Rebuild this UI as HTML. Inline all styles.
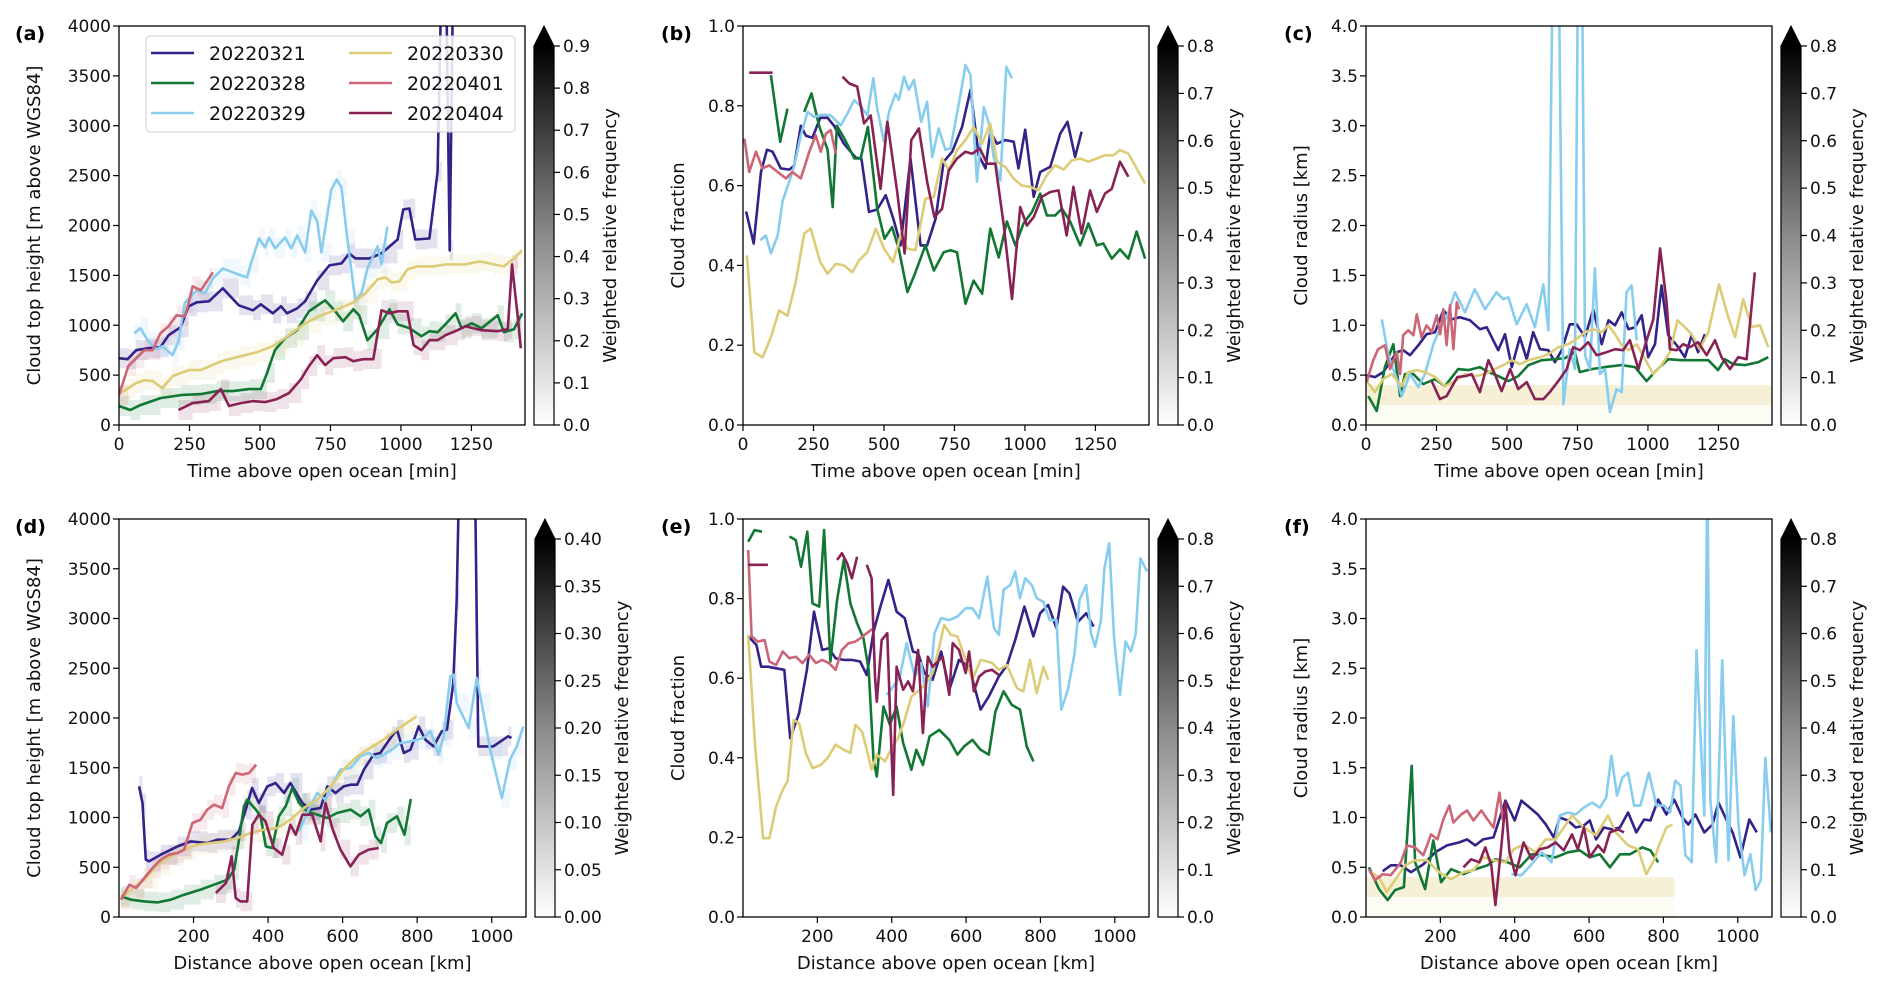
<!DOCTYPE html>
<html><head><meta charset="utf-8">
<style>
html,body{margin:0;padding:0;background:#fff;}
svg{display:block;font-family:"DejaVu Sans","Liberation Sans",sans-serif;}
</style></head>
<body>
<svg id="fig" width="1892" height="1000" viewBox="0 0 1892 1000" xmlns="http://www.w3.org/2000/svg"></svg>
<script>
// ---------- series meta ----------
const seriesNames = ["20220321","20220328","20220329","20220330","20220401","20220404"];
const seriesColors = ["#332288","#117733","#88CCEE","#DDCC77","#CC6677","#882255"];

// ---------- panel (a): cloud top height vs time ----------
const a_321 = [[0,670],[30,660],[61,750],[104,770],[147,780],[176,900],[219,980],[247,1190],[276,1230],[319,1240],[368,1370],[425,1200],[475,1150],[503,1210],[546,1120],[575,1190],[596,1120],[632,1170],[660,1240],[703,1450],[746,1600],[789,1620],[817,1720],[838,1670],[888,1670],[931,1720],[988,1860],[1008,2160],[1030,2170],[1051,1860],[1101,1870],[1130,2540],[1144,4500],[1160,4500],[1173,1750],[1185,4500]];
const a_328 = [[0,190],[40,150],[76,200],[147,270],[219,300],[290,310],[347,340],[404,340],[461,360],[503,360],[525,520],[553,750],[589,870],[632,950],[674,1140],[731,1250],[767,1140],[795,1040],[831,1160],[852,1100],[881,850],[917,960],[959,1160],[988,1010],[1030,970],[1073,890],[1101,940],[1130,930],[1158,1010],[1194,1120],[1215,970],[1251,1020],[1286,970],[1343,1100],[1365,930],[1401,960],[1430,1120]];
const a_329 = [[54,920],[76,970],[104,840],[133,760],[154,790],[190,700],[211,840],[233,1220],[276,1350],[305,1320],[333,1470],[368,1570],[432,1500],[454,1480],[468,1620],[497,1870],[518,1780],[532,1880],[554,1770],[589,1880],[611,1770],[632,1900],[660,1730],[682,2150],[703,2040],[718,1730],[753,2360],[772,2460],[789,2380],[810,1860],[838,1250],[860,1320],[881,1570],[917,1790],[931,1610],[952,1990]];
const a_330 = [[0,310],[33,370],[61,420],[90,450],[119,440],[154,370],[190,490],[247,550],[290,550],[347,620],[375,650],[432,690],[489,730],[546,790],[603,900],[660,1020],[718,1100],[775,1160],[832,1230],[874,1320],[917,1460],[945,1480],[966,1430],[995,1440],[1023,1560],[1058,1590],[1115,1590],[1158,1610],[1229,1610],[1279,1640],[1329,1610],[1365,1590],[1401,1670],[1430,1750]];
const a_401 = [[0,300],[33,590],[61,670],[90,750],[119,750],[147,920],[176,990],[204,1100],[233,1090],[247,1220],[261,1390],[290,1350],[319,1470],[333,1530]];
const a_404 = [[211,150],[261,220],[319,240],[361,360],[390,190],[432,220],[475,240],[518,230],[560,260],[603,320],[646,460],[674,590],[703,700],[731,600],[760,670],[803,680],[831,640],[866,660],[902,660],[931,1150],[959,1120],[988,1140],[1023,1140],[1045,800],[1073,750],[1101,850],[1130,850],[1158,900],[1201,950],[1229,990],[1286,950],[1343,940],[1379,960],[1394,1610],[1415,1060],[1425,770]];

// ---------- panel (b): cloud fraction vs time ----------
const b_321 = [[11,0.535],[38,0.455],[64,0.634],[85,0.69],[105,0.685],[134,0.643],[164,0.64],[182,0.65],[205,0.75],[223,0.725],[246,0.72],[274,0.77],[300,0.77],[323,0.75],[358,0.705],[400,0.67],[420,0.668],[447,0.534],[476,0.54],[506,0.576],[535,0.513],[559,0.45],[594,0.668],[630,0.45],[653,0.45],[683,0.517],[712,0.66],[742,0.685],[777,0.747],[807,0.84],[836,0.676],[860,0.643],[877,0.735],[901,0.705],[930,0.714],[960,0.71],[977,0.643],[1001,0.74],[1031,0.572],[1054,0.634],[1090,0.647],[1125,0.73],[1151,0.76],[1178,0.672],[1201,0.735]];
const b_328 = [[99,0.877],[132,0.71],[158,0.793],[null,null],[217,0.785],[243,0.831],[270,0.75],[300,0.69],[318,0.546],[333,0.75],[358,0.72],[395,0.668],[417,0.668],[443,0.747],[476,0.542],[502,0.467],[529,0.496],[553,0.44],[583,0.333],[612,0.383],[647,0.45],[677,0.387],[712,0.433],[736,0.438],[759,0.433],[789,0.304],[818,0.362],[848,0.329],[877,0.492],[907,0.42],[936,0.51],[966,0.45],[995,0.505],[1025,0.534],[1054,0.58],[1078,0.525],[1107,0.525],[1131,0.542],[1160,0.51],[1196,0.45],[1225,0.505],[1255,0.45],[1278,0.455],[1308,0.417],[1337,0.44],[1367,0.417],[1396,0.485],[1426,0.417]];
const b_329 = [[61,0.463],[81,0.475],[99,0.43],[123,0.475],[140,0.56],[164,0.61],[182,0.65],[205,0.726],[229,0.785],[252,0.772],[282,0.778],[311,0.776],[347,0.751],[370,0.78],[394,0.814],[417,0.8],[441,0.776],[462,0.869],[476,0.793],[500,0.71],[518,0.785],[541,0.83],[553,0.815],[571,0.873],[588,0.84],[606,0.865],[632,0.76],[653,0.81],[671,0.672],[694,0.743],[718,0.69],[736,0.693],[771,0.827],[789,0.902],[807,0.877],[830,0.61],[854,0.797],[872,0.756],[889,0.672],[913,0.613],[934,0.898],[954,0.869]];
const b_330 = [[14,0.425],[40,0.182],[70,0.17],[99,0.22],[128,0.287],[158,0.274],[187,0.358],[217,0.48],[240,0.492],[274,0.408],[300,0.379],[329,0.404],[358,0.4],[388,0.383],[411,0.412],[441,0.433],[471,0.492],[500,0.442],[532,0.408],[559,0.475],[583,0.442],[612,0.438],[647,0.567],[677,0.572],[706,0.668],[730,0.638],[759,0.689],[789,0.714],[818,0.747],[848,0.705],[877,0.756],[901,0.66],[930,0.647],[960,0.617],[989,0.6],[1019,0.597],[1048,0.588],[1078,0.626],[1107,0.651],[1137,0.64],[1166,0.663],[1196,0.668],[1225,0.66],[1255,0.668],[1284,0.676],[1313,0.676],[1337,0.689],[1367,0.68],[1396,0.643],[1426,0.605]];
const b_401 = [[5,0.718],[22,0.634],[46,0.685],[69,0.643],[93,0.651],[123,0.634],[152,0.618],[175,0.634],[205,0.618],[235,0.685],[258,0.726],[276,0.685],[294,0.73],[311,0.739],[329,0.68]];
const b_404 = [[22,0.883],[105,0.883],[null,null],[353,0.873],[377,0.856],[405,0.848],[429,0.756],[453,0.776],[488,0.592],[512,0.76],[547,0.584],[573,0.43],[597,0.714],[624,0.743],[653,0.61],[679,0.521],[706,0.542],[730,0.638],[759,0.668],[789,0.685],[813,0.68],[840,0.693],[866,0.655],[895,0.655],[925,0.5],[954,0.316],[983,0.546],[1007,0.5],[1031,0.521],[1060,0.572],[1090,0.584],[1119,0.588],[1148,0.475],[1172,0.597],[1201,0.48],[1231,0.588],[1255,0.534],[1284,0.58],[1308,0.592],[1337,0.66],[1367,0.622]];

// ---------- panel (c): cloud radius vs time ----------
const c_321 = [[2,0.5],[32,0.48],[61,0.53],[85,0.63],[109,0.73],[132,0.75],[156,0.7],[186,0.8],[215,0.91],[245,0.93],[274,1.15],[304,1.06],[333,1.08],[369,1.05],[404,0.96],[428,0.98],[469,0.75],[493,0.91],[517,0.58],[546,0.88],[570,0.66],[593,0.93],[617,0.76],[647,0.75],[670,0.63],[694,0.75],[723,1.01],[747,1.01],[777,0.88],[806,1.16],[836,0.81],[860,1.05],[883,1.0],[907,1.13],[931,0.96],[954,0.98],[978,1.1],[1001,0.68],[1025,0.81],[1048,1.4],[1072,0.9],[1102,0.8],[1131,0.68],[1155,0.9],[1178,0.73],[1202,0.91]];
const c_328 = [[8,0.29],[38,0.14],[67,0.58],[97,0.81],[121,0.29],[138,0.51],[168,0.51],[203,0.41],[245,0.46],[280,0.39],[327,0.56],[363,0.55],[404,0.58],[434,0.53],[469,0.49],[505,0.44],[540,0.49],[576,0.6],[623,0.65],[670,0.66],[705,0.67],[741,0.73],[758,0.53],[800,0.56],[847,0.58],[907,0.6],[954,0.58],[995,0.44],[1031,0.55],[1072,0.66],[1119,0.65],[1167,0.65],[1214,0.65],[1249,0.55],[1273,0.66],[1303,0.61],[1344,0.6],[1391,0.63],[1427,0.68]];
const c_329 = [[56,1.06],[79,0.7],[103,0.51],[127,0.29],[156,0.51],[186,0.38],[209,0.51],[239,0.81],[262,0.96],[286,1.08],[316,1.33],[351,1.13],[386,1.36],[422,1.16],[463,1.33],[487,1.26],[505,1.28],[534,1.01],[570,1.21],[599,0.98],[629,1.41],[647,0.95],[664,5],[682,5],[700,0.21],[723,0.76],[741,0.56],[753,5],[765,5],[777,0.7],[794,0.56],[812,1.57],[830,0.51],[848,0.56],[865,0.13],[889,0.36],[907,0.33],[924,1.33],[942,1.4],[960,0.85]];
const c_330 = [[2,0.44],[32,0.33],[61,0.46],[91,0.51],[127,0.39],[150,0.53],[180,0.55],[209,0.53],[245,0.48],[280,0.39],[316,0.44],[351,0.51],[386,0.49],[422,0.51],[457,0.56],[487,0.6],[517,0.65],[546,0.61],[576,0.65],[617,0.68],[647,0.71],[682,0.78],[717,0.81],[741,0.85],[777,0.93],[806,0.96],[836,0.93],[860,1.0],[883,0.91],[907,0.8],[931,0.75],[960,0.81],[990,0.66],[1019,0.51],[1048,0.6],[1078,0.73],[1105,1.05],[1131,0.98],[1155,0.91],[1184,0.76],[1214,0.93],[1252,1.41],[1285,1.08],[1309,0.88],[1338,1.26],[1368,0.98],[1397,1.0],[1427,0.78]];
const c_401 = [[2,0.43],[26,0.65],[43,0.76],[67,0.8],[85,0.56],[109,0.73],[121,0.51],[132,0.9],[150,0.95],[168,0.9],[180,1.11],[197,0.88],[215,1.0],[233,0.93],[251,1.1],[263,0.91],[274,1.16],[286,0.8],[298,1.2],[310,0.76],[322,1.23],[330,1.16]];
const c_404 = [[233,0.44],[262,0.26],[286,0.29],[324,0.48],[353,0.49],[375,0.51],[404,0.33],[434,0.65],[457,0.51],[481,0.34],[511,0.56],[540,0.36],[570,0.43],[599,0.26],[629,0.26],[652,0.33],[682,0.44],[712,0.56],[735,0.78],[759,0.75],[788,0.83],[818,0.7],[853,0.73],[883,0.76],[912,0.75],[936,0.85],[966,0.56],[990,0.8],[1019,1.06],[1043,1.77],[1066,1.23],[1078,0.76],[1102,0.75],[1125,0.81],[1149,0.78],[1178,0.83],[1208,0.7],[1238,0.85],[1261,0.68],[1291,0.56],[1320,0.68],[1350,0.66],[1379,1.53]];

// ---------- panel (d): cloud top height vs distance ----------
const d_321 = [[54,1313],[63,1146],[72,576],[81,560],[112,626],[157,710],[193,760],[237,744],[264,777],[300,777],[322,861],[340,1079],[357,1297],[375,1146],[398,1313],[420,1347],[443,1246],[460,1347],[492,1146],[514,1079],[541,1095],[559,1313],[581,1246],[603,1313],[621,1330],[639,1330],[657,1481],[683,1632],[701,1648],[719,1749],[732,1816],[746,1883],[764,1648],[782,1682],[804,1916],[822,1782],[844,1715],[866,1866],[880,1883],[897,2352],[906,3189],[913,4500],[955,4500],[964,1715],[1004,1715],[1044,1816],[1053,1799]];
const d_328 = [[5,208],[32,174],[68,157],[104,147],[139,174],[175,224],[219,275],[255,325],[291,375],[309,476],[322,777],[335,1112],[344,1179],[367,1079],[380,1012],[394,710],[411,693],[429,1012],[447,1112],[465,1297],[483,1146],[505,1062],[532,1028],[559,995],[585,1045],[621,1079],[648,1012],[670,1079],[688,811],[703,744],[719,945],[746,1012],[766,827],[783,1186]];
const d_329 = [[483,861],[509,1079],[532,1246],[554,1179],[572,1330],[594,1481],[621,1497],[648,1615],[670,1648],[692,1598],[710,1632],[732,1682],[755,1749],[782,1765],[799,1782],[817,1799],[835,1866],[844,1782],[857,1632],[871,1816],[889,2419],[898,2436],[906,2151],[938,1899],[960,2402],[973,2151],[996,1682],[1027,1196],[1049,1581],[1067,1715],[1085,1916]];
const d_330 = [[5,190],[32,275],[68,375],[104,526],[139,610],[175,677],[211,727],[246,744],[282,760],[318,794],[353,844],[389,878],[425,894],[460,978],[496,1095],[532,1179],[568,1313],[603,1481],[639,1615],[674,1699],[710,1782],[746,1883],[772,1950],[799,2017]];
const d_401 = [[5,174],[28,325],[46,291],[68,392],[90,492],[112,576],[134,626],[157,643],[175,677],[197,945],[219,978],[237,1079],[255,1129],[277,1095],[295,1313],[313,1447],[331,1431],[349,1447],[368,1531]];
const d_404 = [[260,241],[287,342],[302,610],[313,191],[326,157],[344,157],[358,928],[375,1028],[393,962],[415,693],[438,626],[460,928],[474,827],[492,1028],[518,1028],[541,760],[554,1146],[572,894],[594,677],[621,509],[643,626],[670,677],[697,693]];

// ---------- panel (e): cloud fraction vs distance ----------
const e_321 = [[14,0.705],[36,0.684],[49,0.629],[67,0.629],[89,0.625],[111,0.621],[127,0.449],[151,0.512],[172,0.621],[191,0.767],[213,0.671],[231,0.675],[249,0.65],[271,0.646],[293,0.646],[315,0.642],[333,0.608],[351,0.717],[371,0.784],[391,0.847],[413,0.767],[435,0.751],[457,0.667],[471,0.663],[488,0.613],[510,0.596],[533,0.667],[555,0.571],[581,0.646],[608,0.629],[639,0.521],[661,0.554],[688,0.604],[710,0.633],[732,0.696],[757,0.78],[781,0.705],[799,0.763],[821,0.784],[843,0.726],[861,0.83],[878,0.813],[901,0.742],[923,0.763],[943,0.73]];
const e_328 = [[14,0.943],[31,0.972],[51,0.968],[null,null],[125,0.956],[142,0.947],[156,0.88],[173,0.968],[187,0.788],[205,0.78],[218,0.972],[235,0.642],[253,0.797],[271,0.897],[289,0.788],[307,0.738],[324,0.7],[338,0.621],[351,0.395],[360,0.353],[378,0.529],[395,0.483],[413,0.529],[431,0.437],[453,0.37],[466,0.42],[484,0.382],[502,0.454],[528,0.47],[555,0.445],[577,0.408],[595,0.429],[617,0.445],[639,0.42],[661,0.408],[679,0.516],[701,0.567],[723,0.533],[745,0.521],[763,0.429],[781,0.391]];
const e_329 = [[386,0.558],[404,0.579],[422,0.604],[440,0.688],[462,0.604],[479,0.638],[497,0.529],[515,0.713],[533,0.751],[555,0.746],[577,0.755],[599,0.776],[617,0.776],[635,0.751],[657,0.855],[675,0.726],[688,0.709],[701,0.822],[719,0.834],[732,0.868],[745,0.801],[759,0.851],[777,0.834],[790,0.801],[808,0.792],[825,0.746],[843,0.746],[856,0.521],[874,0.571],[892,0.663],[905,0.797],[923,0.834],[936,0.713],[947,0.679],[963,0.746],[972,0.876],[985,0.939],[998,0.7],[1014,0.558],[1029,0.692],[1043,0.667],[1056,0.709],[1069,0.901],[1087,0.868]];
const e_330 = [[14,0.709],[32,0.437],[54,0.198],[71,0.198],[89,0.278],[107,0.32],[120,0.341],[136,0.495],[151,0.487],[169,0.412],[187,0.374],[209,0.382],[227,0.399],[249,0.433],[271,0.42],[289,0.412],[302,0.483],[320,0.466],[333,0.42],[346,0.37],[360,0.408],[382,0.391],[400,0.424],[417,0.449],[435,0.495],[453,0.554],[471,0.567],[488,0.583],[510,0.613],[528,0.679],[541,0.734],[559,0.709],[577,0.705],[599,0.646],[617,0.596],[639,0.646],[657,0.642],[670,0.638],[688,0.621],[710,0.633],[737,0.575],[754,0.567],[772,0.646],[790,0.562],[808,0.629],[821,0.596]];
const e_401 = [[14,0.922],[23,0.705],[40,0.692],[58,0.696],[71,0.642],[89,0.633],[107,0.667],[125,0.65],[142,0.654],[160,0.638],[178,0.659],[196,0.638],[213,0.646],[231,0.638],[249,0.621],[266,0.671],[284,0.688],[302,0.692],[315,0.7],[333,0.713],[351,0.726]];
const e_404 = [[14,0.885],[67,0.885],[null,null],[253,0.897],[266,0.914],[280,0.889],[293,0.851],[307,0.905],[null,null],[333,0.885],[346,0.851],[355,0.604],[360,0.541],[373,0.696],[388,0.713],[395,0.521],[404,0.307],[413,0.629],[431,0.571],[444,0.592],[457,0.567],[471,0.671],[484,0.462],[497,0.654],[510,0.629],[524,0.642],[537,0.654],[555,0.558],[564,0.688],[581,0.671],[599,0.613],[608,0.667],[621,0.567],[635,0.604],[652,0.617],[670,0.621],[688,0.608]];

// ---------- panel (f): cloud radius vs distance ----------
const f_321 = [[45,0.46],[67,0.52],[94,0.52],[121,0.45],[154,0.53],[186,0.65],[218,0.72],[251,0.75],[272,0.78],[294,0.72],[315,0.78],[343,0.8],[375,1.17],[400,0.97],[418,1.17],[440,1.1],[462,1.03],[484,0.93],[505,0.8],[521,1.0],[543,0.97],[564,0.9],[586,0.92],[602,0.97],[619,0.78],[640,0.9],[662,0.88],[683,0.9],[705,1.05],[727,0.85],[748,0.98],[765,0.97],[786,1.18],[808,1.03],[829,1.18],[851,1.0],[867,0.93],[886,1.03],[910,0.85],[932,0.93],[948,1.15],[969,0.98],[986,0.85],[1007,0.6],[1031,0.98],[1051,0.85]];
const f_328 = [[8,0.5],[35,0.28],[58,0.17],[78,0.27],[102,0.3],[123,1.52],[132,0.55],[159,0.28],[181,0.77],[202,0.35],[229,0.48],[262,0.43],[294,0.48],[327,0.52],[348,0.58],[381,0.55],[413,0.5],[446,0.63],[478,0.62],[510,0.6],[543,0.65],[575,0.67],[602,0.6],[629,0.63],[656,0.5],[683,0.63],[710,0.63],[743,0.7],[765,0.67],[786,0.55]];
const f_329 = [[391,0.43],[418,0.42],[443,0.52],[473,0.65],[499,0.55],[521,1.02],[543,1.05],[564,1.03],[586,1.1],[608,1.15],[629,1.1],[646,1.2],[660,1.62],[675,1.22],[689,1.4],[705,1.45],[721,1.12],[738,1.12],[761,1.45],[781,1.12],[802,1.12],[818,1.05],[832,1.37],[846,1.32],[859,0.62],[876,0.55],[889,2.68],[910,1.02],[918,4.5],[926,1.18],[942,0.55],[958,2.58],[975,0.57],[988,2.02],[1002,0.92],[1018,0.42],[1034,0.63],[1048,0.27],[1062,0.37],[1074,1.6],[1089,0.85]];
const f_330 = [[8,0.46],[35,0.4],[56,0.25],[78,0.37],[105,0.52],[132,0.57],[164,0.57],[197,0.45],[229,0.38],[262,0.45],[289,0.47],[316,0.6],[343,0.57],[375,0.55],[397,0.68],[424,0.73],[456,0.65],[483,0.78],[510,0.78],[532,0.9],[554,1.02],[586,0.9],[619,0.82],[651,1.02],[672,0.85],[705,0.72],[732,0.68],[754,0.43],[775,0.57],[786,0.7],[808,0.9],[824,0.93]];
const f_401 = [[8,0.48],[24,0.37],[45,0.43],[67,0.42],[94,0.55],[110,0.72],[132,0.7],[154,0.62],[175,0.83],[192,0.78],[208,0.98],[224,1.12],[235,0.95],[256,1.03],[272,1.07],[289,0.97],[310,1.07],[327,0.98],[343,0.9],[359,1.25],[368,0.97]];
const f_404 = [[262,0.5],[283,0.58],[305,0.55],[321,0.7],[337,0.52],[348,0.12],[365,0.75],[375,1.15],[386,0.65],[402,0.42],[424,0.75],[446,0.58],[467,0.68],[489,0.7],[510,0.75],[532,0.67],[554,0.83],[570,0.68],[586,0.9],[602,0.6],[624,0.72],[640,0.65],[656,0.85],[678,0.88],[694,0.85]];

// ---------- axis ticks ----------
const timeTicks = [0,250,500,750,1000,1250];
const distTicks = [200,400,600,800,1000];
const cthTicks = [0,500,1000,1500,2000,2500,3000,3500,4000];
const cfTicks = ["0.0","0.2","0.4","0.6","0.8","1.0"];
const radTicks = ["0.0","0.5","1.0","1.5","2.0","2.5","3.0","3.5","4.0"];
const cbTicks09 = ["0.0","0.1","0.2","0.3","0.4","0.5","0.6","0.7","0.8","0.9"];
const cbTicks08 = ["0.0","0.1","0.2","0.3","0.4","0.5","0.6","0.7","0.8"];
const cbTicks04 = ["0.00","0.05","0.10","0.15","0.20","0.25","0.30","0.35","0.40"];

const NS = "http://www.w3.org/2000/svg";
const svg = document.getElementById("fig");
function mk(tag, attrs, parent) {
  const e = document.createElementNS(NS, tag);
  for (const k in attrs) e.setAttribute(k, attrs[k]);
  (parent || svg).appendChild(e);
  return e;
}

const defs = mk("defs", {});
const grad = mk("linearGradient", {id:"greys", x1:"0", y1:"1", x2:"0", y2:"0"}, defs);
mk("stop", {offset:"0", "stop-color":"#ffffff"}, grad);
mk("stop", {offset:"0.5", "stop-color":"#8a8a8a"}, grad);
mk("stop", {offset:"1", "stop-color":"#000000"}, grad);

const panels = [
  {id:"a", L:119, R:525, T:26, B:425, xmin:0, xmax:1440, ymin:0, ymax:4000, xt:timeTicks, yt:cthTicks, xl:"Time above open ocean [min]", yl:"Cloud top height [m above WGS84]", ylx:34, cb:cbTicks09, data:[a_321,a_328,a_329,a_330,a_401,a_404], heat:"track", plx:15},
  {id:"b", L:743, R:1149, T:26, B:425, xmin:0, xmax:1440, ymin:0, ymax:1, xt:timeTicks, yt:cfTicks, xl:"Time above open ocean [min]", yl:"Cloud fraction", ylx:678, cb:cbTicks08, data:[b_321,b_328,b_329,b_330,b_401,b_404], heat:"none", plx:661},
  {id:"c", L:1366, R:1772, T:26, B:425, xmin:0, xmax:1440, ymin:0, ymax:4, xt:timeTicks, yt:radTicks, xl:"Time above open ocean [min]", yl:"Cloud radius [km]", ylx:1301, cb:cbTicks08, data:[c_321,c_328,c_329,c_330,c_401,c_404], heat:"band", plx:1284},
  {id:"d", L:119, R:526, T:519, B:917, xmin:0, xmax:1092, ymin:0, ymax:4000, xt:distTicks, yt:cthTicks, xl:"Distance above open ocean [km]", yl:"Cloud top height [m above WGS84]", ylx:34, cb:cbTicks04, data:[d_321,d_328,d_329,d_330,d_401,d_404], heat:"track", plx:15},
  {id:"e", L:743, R:1149, T:519, B:917, xmin:0, xmax:1092, ymin:0, ymax:1, xt:distTicks, yt:cfTicks, xl:"Distance above open ocean [km]", yl:"Cloud fraction", ylx:678, cb:cbTicks08, data:[e_321,e_328,e_329,e_330,e_401,e_404], heat:"none", plx:661},
  {id:"f", L:1366, R:1772, T:519, B:917, xmin:0, xmax:1092, ymin:0, ymax:4, xt:distTicks, yt:radTicks, xl:"Distance above open ocean [km]", yl:"Cloud radius [km]", ylx:1301, cb:cbTicks08, data:[f_321,f_328,f_329,f_330,f_401,f_404], heat:"band", plx:1284}
];

panels.forEach(function(p) {
  const g = mk("g", {});
  
  
  const sx = v => p.L + (v - p.xmin) / (p.xmax - p.xmin) * (p.R - p.L);
  const sy = v => p.B - (v - p.ymin) / (p.ymax - p.ymin) * (p.B - p.T);
  const clip = mk("clipPath", {id:"clip-" + p.id}, defs);
  mk("rect", {x:p.L, y:p.T, width:p.R - p.L, height:p.B - p.T}, clip);
  const plot = mk("g", {"clip-path":"url(#clip-" + p.id + ")"}, g);
  
  

  const yr = p.ymax - p.ymin;
  if (p.heat === "track") {
    p.data.forEach(function(s, si) {
      for (let i = 0; i < s.length - 1; i++) {
        if (s[i][0] === null || s[i+1][0] === null) continue;
        if (s[i][1] > p.ymax) continue;
        const x0 = sx(s[i][0]), x1 = sx(s[i+1][0]);
        const r = mk("rect", {x:x0, y:sy(s[i][1] + yr*0.025), width:Math.max(2, x1 - x0), height:sy(0) - sy(yr*0.05), fill:seriesColors[si], opacity:0.13}, plot);
        
        
      }
    });
  } else if (p.heat === "band") {
    const endX = p.id === "c" ? 1440 : 830;
    const band = mk("rect", {x:sx(0), y:sy(0.4), width:sx(endX) - sx(0), height:sy(0.2) - sy(0.4), fill:"#DDCC77", opacity:0.3}, plot);
    
    
    const band2 = mk("rect", {x:sx(0), y:sy(0.2), width:sx(endX) - sx(0), height:sy(0) - sy(0.2), fill:"#DDCC77", opacity:0.08}, plot);
    
    
  }

  p.data.forEach(function(s, si) {
    let d = "", pen = false;
    s.forEach(function(pt) {
      if (pt[0] === null) { pen = false; return; }
      d += (pen ? "L" : "M") + sx(pt[0]).toFixed(1) + "," + sy(pt[1]).toFixed(1);
      pen = true;
    });
    const path = mk("path", {d:d, fill:"none", stroke:seriesColors[si], "stroke-width":2.6, "stroke-linejoin":"round"}, plot);
    
    
  });

  const fr = mk("rect", {x:p.L, y:p.T, width:p.R - p.L, height:p.B - p.T, fill:"none", stroke:"#000", "stroke-width":1.3}, g);
  
  

  p.xt.forEach(function(t) {
    const x = sx(t);
    mk("line", {x1:x, y1:p.B, x2:x, y2:p.B + 6, stroke:"#000", "stroke-width":1.2}, g);
    const tx = mk("text", {x:x, y:p.B + 25, "font-size":17, "text-anchor":"middle", fill:"#111"}, g);
    tx.textContent = t;
    
    
  });
  p.yt.forEach(function(t) {
    const y = sy(parseFloat(t));
    mk("line", {x1:p.L - 6, y1:y, x2:p.L, y2:y, stroke:"#000", "stroke-width":1.2}, g);
    const ty = mk("text", {x:p.L - 8, y:y + 6, "font-size":17, "text-anchor":"end", fill:"#111"}, g);
    ty.textContent = t;
    
    
  });
  const xl = mk("text", {x:(p.L + p.R)/2, y:p.B + 52, "font-size":18, "text-anchor":"middle", fill:"#111"}, g);
  xl.textContent = p.xl;
  
  
  const cy = (p.T + p.B)/2;
  const yl = mk("text", {x:p.ylx + 6, y:cy, "font-size":18, "text-anchor":"middle", fill:"#111", transform:"rotate(-90 " + (p.ylx + 6) + " " + cy + ")"}, g);
  yl.textContent = p.yl;
  
  
  const pl = mk("text", {x:p.plx, y:p.T + 14, "font-size":19, "font-weight":"bold", fill:"#000"}, g);
  pl.textContent = "(" + p.id + ")";
  
  

  const cbL = p.R + 9, cbW = 20, cbT = p.T + 20, cbB = p.B;
  const cbg = mk("g", {}, g);
  
  
  mk("rect", {x:cbL, y:cbT, width:cbW, height:cbB - cbT, fill:"url(#greys)", stroke:"#000", "stroke-width":1.2}, cbg);
  mk("path", {d:"M" + cbL + "," + cbT + "L" + (cbL + cbW/2) + "," + p.T + "L" + (cbL + cbW) + "," + cbT + "Z", fill:"#000", stroke:"#000", "stroke-width":1}, cbg);
  const n = p.cb.length - 1;
  p.cb.forEach(function(t, i) {
    const y = cbB - i / n * (cbB - cbT);
    mk("line", {x1:cbL + cbW, y1:y, x2:cbL + cbW + 6, y2:y, stroke:"#000", "stroke-width":1.2}, cbg);
    const ct = mk("text", {x:cbL + cbW + 9, y:y + 6, "font-size":17, fill:"#111"}, cbg);
    ct.textContent = t;
    
    
  });
  const cbx = cbL + cbW + (p.id === "d" ? 73 : 62);
  const cyl = (cbT + cbB)/2;
  const cl = mk("text", {x:cbx, y:cyl, "font-size":18, "text-anchor":"middle", fill:"#111", transform:"rotate(-90 " + cbx + " " + cyl + ")"}, cbg);
  cl.textContent = "Weighted relative frequency";
  
  
});

const lg = mk("g", {});


mk("rect", {x:146, y:36, width:369, height:96, rx:4, fill:"#fff", "fill-opacity":0.85, stroke:"#ccc", "stroke-width":1}, lg);
seriesNames.forEach(function(nm, i) {
  const col = i < 3 ? 0 : 1, row = i % 3;
  const x0 = col === 0 ? 151 : 349, y = 53 + row * 30;
  const ln = mk("line", {x1:x0, y1:y, x2:x0 + 43, y2:y, stroke:seriesColors[i], "stroke-width":2.6}, lg);
  
  
  const tx = mk("text", {x:x0 + 58, y:y + 7, "font-size":19, fill:"#111"}, lg);
  tx.textContent = nm;
  
  
});
</script>
</body></html>
